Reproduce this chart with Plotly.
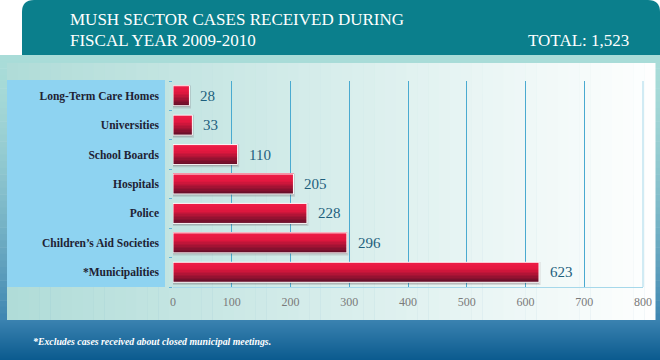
import plotly.graph_objects as go

categories = ["Long-Term Care Homes", "Universities", "School Boards", "Hospitals",
              "Police", "Children\u2019s Aid Societies", "*Municipalities"]
cases = [28, 33, 110, 205, 228, 296, 623]
x_ticks = [0, 100, 200, 300, 400, 500, 600, 700, 800]
grid_vals = [100, 200, 300, 400, 500, 600, 700]
title_lines = ["MUSH SECTOR CASES RECEIVED DURING", "FISCAL YEAR 2009-2010"]
total_text = "TOTAL: 1,523"
footnote = "*Excludes cases received about closed municipal meetings."

W, H = 660, 360
def px(x): return x / W
def py(y): return 1 - y / H

def lerp(c1, c2, t):
    a = [int(c1[i:i+2], 16) for i in (1, 3, 5)]
    b = [int(c2[i:i+2], 16) for i in (1, 3, 5)]
    return "#%02x%02x%02x" % tuple(round(a[k] + (b[k] - a[k]) * t) for k in range(3))

shapes = []
def rect(x0, y0, x1, y1, color, layer="below"):
    shapes.append(dict(type="rect", xref="paper", yref="paper", x0=px(x0), x1=px(x1),
                       y0=py(y1), y1=py(y0), fillcolor=color, line=dict(width=0), layer=layer))

# outer background band (vertical gradient)
N = 40
for i in range(N):
    y0 = 55 + (320 - 55) * i / N
    y1 = 55 + (320 - 55) * (i + 1) / N + 0.5
    rect(0, y0, 660, y1, lerp("#a9dcd8", "#3c84b0", (i / N) ** 1.6))
# bottom band
for i in range(N):
    y0 = 320 + 40 * i / N
    y1 = 320 + 40 * (i + 1) / N + 0.5
    rect(0, y0, 660, y1, lerp("#3a82b0", "#0a5a8e", i / N))

# header with rounded top corners
r = 12
hx0, hx1, hy0, hy1 = 22, 660, 0, 55
path = (f"M {px(hx0)},{py(hy1)} L {px(hx0)},{py(hy0 + r)} "
        f"Q {px(hx0)},{py(hy0)} {px(hx0 + r)},{py(hy0)} "
        f"L {px(hx1 - r)},{py(hy0)} Q {px(hx1)},{py(hy0)} {px(hx1)},{py(hy0 + r)} "
        f"L {px(hx1)},{py(hy1)} Z")
shapes.append(dict(type="path", xref="paper", yref="paper", path=path,
                   fillcolor="#0b7f8c", line=dict(width=0), layer="below"))

# inner panel horizontal gradient
M = 60
for i in range(M):
    x0 = 7 + (655 - 7) * i / M
    x1 = 7 + (655 - 7) * (i + 1) / M + 0.5
    rect(x0, 63, x1, 320, lerp("#b0dcd8", "#ffffff", i / M))

# label box
rect(7, 80, 165, 287, "#8ed3f1")

# right border of plot area
shapes.append(dict(type="line", xref="x domain", yref="y domain", x0=1, x1=1, y0=0, y1=1,
                   line=dict(color="#a6d8ea", width=1), layer="below"))

fig = go.Figure()

# shadow
fig.add_trace(go.Bar(y=categories, x=cases, orientation="h", width=0.68, offset=-0.30,
                     marker=dict(color="rgba(70,40,50,0.30)",
                                 line=dict(color="rgba(70,40,50,0.15)", width=3)),
                     hoverinfo="skip", showlegend=False))
# gradient strips
S = 14
for i in range(S):
    t = i / (S - 1)
    if t < 0.35:
        col = lerp("#ee1d47", "#e3173f", t / 0.35)
    else:
        col = lerp("#e3173f", "#6a0f2a", (t - 0.35) / 0.65)
    fig.add_trace(go.Bar(y=categories, x=cases, orientation="h", width=0.68 / S + 0.002,
                         offset=-0.34 + i * 0.68 / S,
                         marker=dict(color=col, line=dict(width=0)),
                         hoverinfo="skip", showlegend=False))
# outline
fig.add_trace(go.Bar(y=categories, x=cases, orientation="h", width=0.68, offset=-0.34,
                     marker=dict(color="rgba(0,0,0,0)", line=dict(color="#ffffff", width=1)),
                     showlegend=False))

annotations = []
for c, v in zip(categories, cases):
    annotations.append(dict(x=v, y=c, xref="x", yref="y", text=str(v), showarrow=False,
                            xanchor="left", xshift=9,
                            font=dict(family="Liberation Serif", size=15, color="#1d5f7d")))

for txt, yy in zip(title_lines, (19.5, 40.5)):
    annotations.append(dict(x=px(68), y=py(yy), xref="paper", yref="paper", text=txt,
                            showarrow=False, xanchor="left", yanchor="middle",
                            font=dict(family="Liberation Serif", size=17, color="#ffffff")))
annotations.append(dict(x=px(631), y=py(40.5), xref="paper", yref="paper", text=total_text,
                        showarrow=False, xanchor="right", yanchor="middle",
                        font=dict(family="Liberation Serif", size=17, color="#ffffff")))
annotations.append(dict(x=px(31), y=py(341), xref="paper", yref="paper",
                        text="<b><i>" + footnote + "</i></b>",
                        showarrow=False, xanchor="left", yanchor="middle",
                        font=dict(family="Liberation Serif", size=9.8, color="#ffffff")))

fig.update_layout(
    width=W, height=H, margin=dict(l=0, r=0, t=0, b=0, pad=0, autoexpand=False),
    paper_bgcolor="#ffffff", plot_bgcolor="rgba(0,0,0,0)",
    barmode="overlay",
    shapes=shapes, annotations=annotations,
    xaxis=dict(domain=[px(173), px(643)], range=[0, 800], tickvals=x_ticks,
               showgrid=False, zeroline=False, automargin=False,
               minor=dict(tickvals=grid_vals, showgrid=True, gridcolor="#4aaad0",
                          gridwidth=1, ticks=""),
               showline=True, linecolor="#a6d8ea", linewidth=1, mirror=False,
               ticks="outside", ticklen=4, tickcolor="rgba(0,0,0,0)",
               tickfont=dict(family="Liberation Serif", size=12, color="#7a7a7a"),
               fixedrange=True),
    yaxis=dict(domain=[py(287), py(81)], categoryorder="array", categoryarray=categories,
               autorange="reversed", showgrid=False, zeroline=False, showline=False,
               automargin=False,
               ticks="outside", tickson="boundaries", ticklen=3, tickcolor="#5fb4d8",
               ticklabelstandoff=13,
               tickfont=dict(family="Liberation Serif", size=11.5, color="#1e2233"),
               fixedrange=True),
    showlegend=False,
)
fig.update_yaxes(ticktext=["<b>" + c + "</b>" for c in categories], tickvals=categories)

fig.write_html("out.html", config={"displayModeBar": False},
               post_script="document.body.style.margin='0px';document.body.style.overflow='hidden';")
